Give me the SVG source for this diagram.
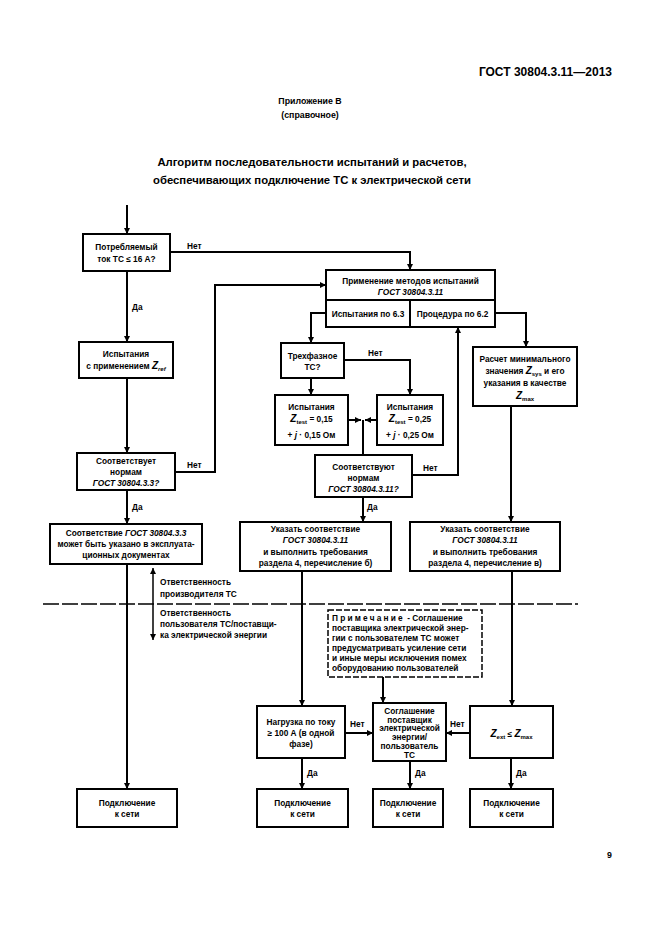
<svg xmlns="http://www.w3.org/2000/svg" width="661" height="936" viewBox="0 0 661 936">
<defs>
<marker id="ah" markerUnits="userSpaceOnUse" markerWidth="6" markerHeight="6" refX="6" refY="3" orient="auto">
<path d="M0,0 L6,3 L0,6 z" fill="#000"/>
</marker>
<style>
text{font-family:"Liberation Sans",Arial,sans-serif;fill:#000}
.hd{font-size:11.3px;font-weight:bold}
.hr{font-size:12px;font-weight:bold}
.sub{font-size:8.8px;font-weight:bold}
.t{font-size:8.3px;font-weight:bold;text-anchor:middle}
.l{font-size:8.3px;font-weight:bold}
.i{font-style:italic}
.s{font-size:6px}
.box{fill:#fff;stroke:#000;stroke-width:2}
.c{fill:none;stroke:#000;stroke-width:2}
.a{marker-end:url(#ah)}
.dash{fill:none;stroke:#000;stroke-width:1.5;stroke-dasharray:16 3}
</style>
</defs>
<rect width="661" height="936" fill="#fff"/>

<g id="header">
<text class="hr" x="612" y="76" text-anchor="end">ГОСТ 30804.3.11—2013</text>
<text class="sub" x="310" y="104" text-anchor="middle">Приложение В</text>
<text class="sub" x="310" y="118" text-anchor="middle">(справочное)</text>
<text class="hd" x="312" y="166" text-anchor="middle">Алгоритм последовательности испытаний и расчетов,</text>
<text class="hd" x="312" y="184" text-anchor="middle">обеспечивающих подключение ТС к электрической сети</text>
</g>

<g id="connectors">
<line class="c a" x1="127" y1="205" x2="127" y2="234"/>
<line class="c a" x1="127" y1="271" x2="127" y2="342"/>
<line class="c a" x1="127" y1="378" x2="127" y2="453"/>
<line class="c a" x1="127" y1="490" x2="127" y2="524"/>
<line class="c a" x1="127" y1="564" x2="127" y2="789"/>
<polyline class="c a" points="175,472 215,472 215,285 326,285"/>
<polyline class="c a" points="170,252 410,252 410,270"/>
<polyline class="c a" points="326,313 311,313 311,343"/>
<line class="c a" x1="311" y1="378" x2="311" y2="395"/>
<polyline class="c a" points="344,360 410,360 410,395"/>
<line class="c a" x1="348" y1="420" x2="361" y2="420"/>
<line class="c a" x1="377" y1="420" x2="365" y2="420"/>
<line class="c" x1="363" y1="420" x2="363" y2="455"/>
<polyline class="c a" points="412,475 458,475 458,327"/>
<line class="c a" x1="363" y1="497" x2="363" y2="522"/>
<polyline class="c a" points="495,313 526,313 526,347"/>
<line class="c a" x1="511" y1="406" x2="511" y2="522"/>
<line class="c a" x1="302" y1="571" x2="302" y2="706"/>
<line class="c a" x1="512" y1="571" x2="512" y2="706"/>
<line class="c a" x1="383" y1="677" x2="383" y2="703"/>
<line class="c a" x1="345" y1="733" x2="373" y2="733"/>
<line class="c a" x1="470" y1="733" x2="446" y2="733"/>
<line class="c a" x1="302" y1="758" x2="302" y2="789"/>
<line class="c a" x1="410" y1="761" x2="410" y2="789"/>
<line class="c a" x1="511" y1="758" x2="511" y2="789"/>
<line class="dash" x1="43" y1="604" x2="578" y2="604"/>
<line class="c a" x1="153" y1="604" x2="153" y2="568" style="stroke-width:1.5"/>
<line class="c a" x1="153" y1="604" x2="153" y2="640" style="stroke-width:1.5"/>
<text class="l" x="187" y="249">Нет</text>
<text class="l" x="132" y="310">Да</text>
<text class="l" x="187" y="468">Нет</text>
<text class="l" x="132" y="510">Да</text>
<text class="l" x="368" y="356">Нет</text>
<text class="l" x="423" y="471">Нет</text>
<text class="l" x="367" y="510">Да</text>
<text class="l" x="350" y="727">Нет</text>
<text class="l" x="450" y="727">Нет</text>
<text class="l" x="307" y="776">Да</text>
<text class="l" x="415" y="776">Да</text>
<text class="l" x="516" y="776">Да</text>
<text class="l" x="160" y="585">Ответственность</text>
<text class="l" x="160" y="597">производителя ТС</text>
<text class="l" x="160" y="616">Ответственность</text>
<text class="l" x="160" y="627">пользователя ТС/поставщи-</text>
<text class="l" x="160" y="638">ка электрической энергии</text>
</g>

<g id="n_current">
<rect class="box" x="83" y="234" width="87" height="37"/>
<text class="t" x="126.5" y="250">Потребляемый</text>
<text class="t" x="126.5" y="262">ток ТС ≤ 16 А?</text>
</g>

<g id="n_test_ref">
<rect class="box" x="79" y="342" width="94" height="36"/>
<text class="t" x="126" y="357">Испытания</text>
<text class="t" x="126" y="369">с применением <tspan class="i" font-size="10">Z</tspan><tspan class="i s" dy="2">ref</tspan></text>
</g>

<g id="n_comply333">
<rect class="box" x="77" y="453" width="98" height="37"/>
<text class="t" x="126" y="464">Соответствует</text>
<text class="t" x="126" y="475">нормам</text>
<text class="t i" x="126" y="486">ГОСТ 30804.3.3?</text>
</g>

<g id="n_doc333">
<rect class="box" x="50" y="524" width="152" height="40"/>
<text class="t" x="126" y="536">Соответствие <tspan class="i">ГОСТ 30804.3.3</tspan></text>
<text class="t" x="126" y="547">может быть указано в эксплуата-</text>
<text class="t" x="126" y="558">ционных документах</text>
</g>

<g id="n_final1">
<rect class="box" x="77" y="789" width="100" height="38"/>
<text class="t" x="127" y="806">Подключение</text>
<text class="t" x="127" y="817">к сети</text>
</g>

<g id="n_methods">
<rect class="box" x="326" y="270" width="169" height="57"/>
<line class="c" x1="326" y1="300" x2="495" y2="300"/>
<line class="c" x1="410" y1="300" x2="410" y2="327"/>
<text class="t" x="410.5" y="284">Применение методов испытаний</text>
<text class="t i" x="410.5" y="295">ГОСТ 30804.3.11</text>
<text class="t" x="368" y="317">Испытания по 6.3</text>
<text class="t" x="452.5" y="317">Процедура по 6.2</text>
</g>

<g id="n_threephase">
<rect class="box" x="281" y="343" width="63" height="35"/>
<text class="t" x="312.5" y="359">Трехфазное</text>
<text class="t" x="312.5" y="370">ТС?</text>
</g>

<g id="n_z015">
<rect class="box" x="275" y="395" width="73" height="50"/>
<text class="t" x="311.5" y="410">Испытания</text>
<text class="t" x="311.5" y="422"><tspan class="i" font-size="10">Z</tspan><tspan class="s" dy="2">test</tspan><tspan dy="-2"> = 0,15</tspan></text>
<text class="t" x="311.5" y="438">+ <tspan class="i">j</tspan> · 0,15 Ом</text>
</g>

<g id="n_z025">
<rect class="box" x="377" y="395" width="66" height="50"/>
<text class="t" x="410" y="410">Испытания</text>
<text class="t" x="410" y="422"><tspan class="i" font-size="10">Z</tspan><tspan class="s" dy="2">test</tspan><tspan dy="-2"> = 0,25</tspan></text>
<text class="t" x="410" y="438">+ <tspan class="i">j</tspan> · 0,25 Ом</text>
</g>

<g id="n_comply311">
<rect class="box" x="315" y="455" width="97" height="42"/>
<text class="t" x="363.5" y="470">Соответствуют</text>
<text class="t" x="363.5" y="481">нормам</text>
<text class="t i" x="363.5" y="492">ГОСТ 30804.3.11?</text>
</g>

<g id="n_calc">
<rect class="box" x="473" y="347" width="104" height="59"/>
<text class="t" x="525" y="362">Расчет минимального</text>
<text class="t" x="525" y="374">значения <tspan class="i" font-size="10">Z</tspan><tspan class="s" dy="2">sys</tspan><tspan dy="-2"> и его</tspan></text>
<text class="t" x="525" y="386">указания в качестве</text>
<text class="t" x="525" y="399"><tspan class="i" font-size="10">Z</tspan><tspan class="s" dy="2">max</tspan></text>
</g>

<g id="n_indicate_b">
<rect class="box" x="240" y="522" width="151" height="49"/>
<text class="t" x="315.5" y="532">Указать соответствие</text>
<text class="t i" x="315.5" y="543">ГОСТ 30804.3.11</text>
<text class="t" x="315.5" y="555">и выполнить требования</text>
<text class="t" x="315.5" y="566">раздела 4, перечисление б)</text>
</g>

<g id="n_indicate_v">
<rect class="box" x="410" y="522" width="150" height="49"/>
<text class="t" x="485" y="532">Указать соответствие</text>
<text class="t i" x="485" y="543">ГОСТ 30804.3.11</text>
<text class="t" x="485" y="555">и выполнить требования</text>
<text class="t" x="485" y="566">раздела 4, перечисление в)</text>
</g>

<g id="n_note">
<rect x="328" y="610" width="154" height="67" fill="#fff" stroke="#000" stroke-width="1.5" stroke-dasharray="6 2"/>
<text class="l" x="332" y="621"><tspan letter-spacing="2.2">Примечание</tspan> - Соглашение</text>
<text class="l" x="332" y="631">поставщика электрической энер-</text>
<text class="l" x="332" y="641">гии с пользователем ТС может</text>
<text class="l" x="332" y="651">предусматривать усиление сети</text>
<text class="l" x="332" y="661">и иные меры исключения помех</text>
<text class="l" x="332" y="671">оборудованию пользователей</text>
</g>

<g id="n_load">
<rect class="box" x="257" y="706" width="88" height="52"/>
<text class="t" x="301" y="725">Нагрузка по току</text>
<text class="t" x="301" y="736">≥ 100 А (в одной</text>
<text class="t" x="301" y="747">фазе)</text>
</g>

<g id="n_agreement">
<rect class="box" x="373" y="703" width="73" height="58"/>
<text class="t" x="409.5" y="714">Соглашение</text>
<text class="t" x="409.5" y="722.5">поставщик</text>
<text class="t" x="409.5" y="731">электрической</text>
<text class="t" x="409.5" y="740">энергии/</text>
<text class="t" x="409.5" y="749">пользователь</text>
<text class="t" x="409.5" y="758">ТС</text>
</g>

<g id="n_zcomp">
<rect class="box" x="470" y="706" width="83" height="52"/>
<text class="t" x="511.5" y="737"><tspan class="i" font-size="10">Z</tspan><tspan class="s" dy="2">ext</tspan><tspan dy="-2"> ≤ </tspan><tspan class="i" font-size="10">Z</tspan><tspan class="s" dy="2">max</tspan></text>
</g>

<g id="n_final2">
<rect class="box" x="257" y="789" width="91" height="38"/>
<text class="t" x="302.5" y="806">Подключение</text>
<text class="t" x="302.5" y="817">к сети</text>
</g>

<g id="n_final3">
<rect class="box" x="373" y="789" width="70" height="38"/>
<text class="t" x="408" y="806">Подключение</text>
<text class="t" x="408" y="817">к сети</text>
</g>

<g id="n_final4">
<rect class="box" x="470" y="789" width="83" height="38"/>
<text class="t" x="511.5" y="806">Подключение</text>
<text class="t" x="511.5" y="817">к сети</text>
</g>

<text class="sub" x="612" y="858" text-anchor="end">9</text>
</svg>
